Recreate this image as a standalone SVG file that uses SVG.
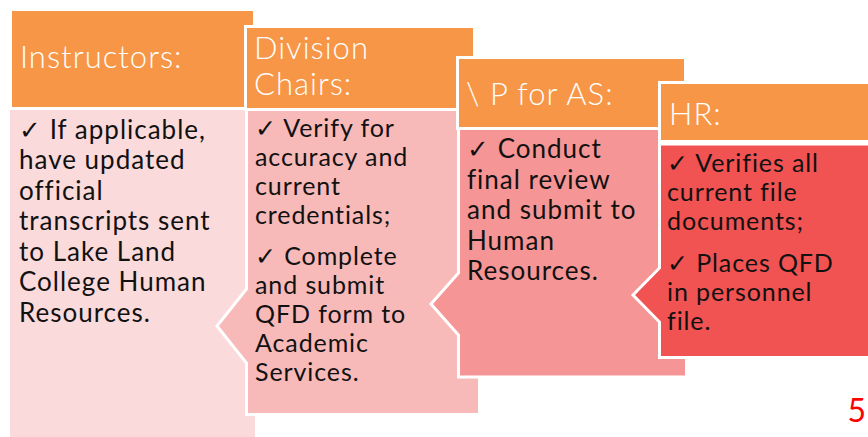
<svg xmlns="http://www.w3.org/2000/svg" width="868" height="437" viewBox="0 0 868 437">
  <style>
    .hdr { fill: #F79646; stroke: #FFFFFF; stroke-width: 3; }
    .body { stroke: #FFFFFF; stroke-width: 3; stroke-linejoin: miter; }
    .htxt { font-family: Lato, "Open Sans", sans-serif; font-size: 31px; letter-spacing: 1px; font-weight: 300; fill: #FFFFFF; }
    .btxt { font-family: Lato, "Open Sans", sans-serif; font-size: 26px; letter-spacing: 1px; fill: #111111; }
    .sm { font-size: 25px; letter-spacing: 0.9px; }
    .pg { font-family: Lato, "Liberation Sans", sans-serif; font-size: 32px; fill: #FF0000; }
  </style>
  <rect width="868" height="437" fill="#FFFFFF"/>

  <g id="instructors">
    <rect class="hdr" x="10.5" y="9.5" width="244" height="99.5" stroke="none"/>
    <rect class="body" x="8.5" y="108.5" width="248" height="340" fill="#FBDADB"/>
    <text class="htxt" x="20" y="68">Instructors:</text>
    <text class="btxt">
      <tspan x="19" y="138.5">✓ If applicable,</tspan>
      <tspan x="19" y="169">have updated</tspan>
      <tspan x="19" y="199.5">official</tspan>
      <tspan x="19" y="230">transcripts sent</tspan>
      <tspan x="19" y="260.5">to Lake Land</tspan>
      <tspan x="19" y="291">College Human</tspan>
      <tspan x="19" y="321.5">Resources.</tspan>
    </text>
  </g>

  <g id="division-chairs">
    <rect class="hdr" x="245.5" y="26.5" width="229" height="83"/>
    <path class="body" d="M246.5,109.5 H479.5 V414.5 H246.5 V363 L217,326 L246.5,289 Z" fill="#F8B9B9"/>
    <text class="htxt">
      <tspan x="254" y="59">Division</tspan>
      <tspan x="254" y="95">Chairs:</tspan>
    </text>
    <text class="btxt sm">
      <tspan x="255" y="137">✓ Verify for</tspan>
      <tspan x="255" y="166">accuracy and</tspan>
      <tspan x="255" y="195">current</tspan>
      <tspan x="255" y="224">credentials;</tspan>
      <tspan x="255" y="265">✓ Complete</tspan>
      <tspan x="255" y="294">and submit</tspan>
      <tspan x="255" y="323">QFD form to</tspan>
      <tspan x="255" y="352">Academic</tspan>
      <tspan x="255" y="381">Services.</tspan>
    </text>
  </g>

  <g id="vp-for-as">
    <rect class="hdr" x="457.5" y="57.5" width="228" height="71"/>
    <path class="body" d="M458.5,128.5 H686.5 V377 H458.5 V335 L431,304 L458.5,273 Z" fill="#F69595"/>
    <text class="htxt" x="466" y="105">\ P for AS:</text>
    <text class="btxt">
      <tspan x="467" y="158">✓ Conduct</tspan>
      <tspan x="467" y="189">final review</tspan>
      <tspan x="467" y="219">and submit to</tspan>
      <tspan x="467" y="249.5">Human</tspan>
      <tspan x="467" y="280">Resources.</tspan>
    </text>
  </g>

  <g id="hr">
    <rect class="hdr" x="659.5" y="82.5" width="220" height="59"/>
    <path class="body" d="M659.5,144 H880 V357.5 H659.5 V322 L633,295 L659.5,268 Z" fill="#F15252"/>
    <text class="htxt" x="669" y="125">HR:</text>
    <text class="btxt sm">
      <tspan x="667" y="172">✓ Verifies all</tspan>
      <tspan x="667" y="201">current file</tspan>
      <tspan x="667" y="230">documents;</tspan>
      <tspan x="667" y="272">✓ Places QFD</tspan>
      <tspan x="667" y="301">in personnel</tspan>
      <tspan x="667" y="330">file.</tspan>
    </text>
  </g>

  <g id="connectors"></g>

  <text class="pg" x="866" y="422" text-anchor="end">5</text>
</svg>
